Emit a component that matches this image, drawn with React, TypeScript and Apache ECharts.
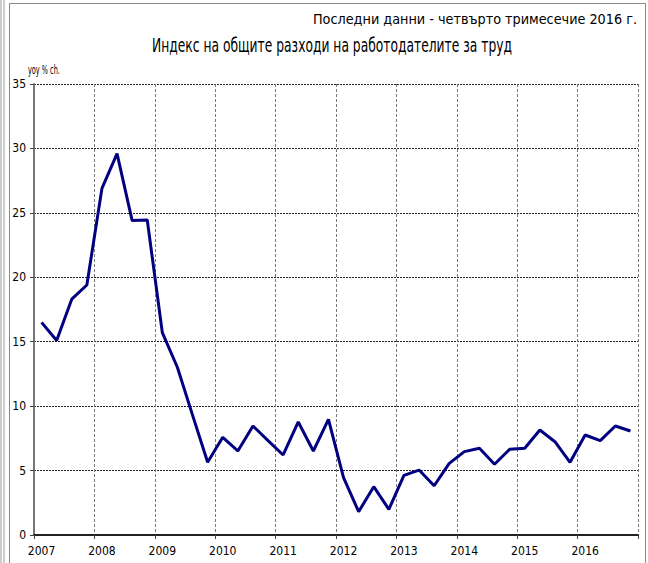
import React, { useEffect, useRef } from "react";
import * as echarts from "echarts";

const years = ["2007", "2008", "2009", "2010", "2011", "2012", "2013", "2014", "2015", "2016"];
const quarters = ["Q1", "Q2", "Q3", "Q4"];
const categories: string[] = years.flatMap((y) => quarters.map((q) => `${y} ${q}`));
const values = [
  16.5, 15.1, 18.3, 19.4,
  26.9, 29.6, 24.4, 24.45,
  15.7, 13.0, 9.3, 5.65,
  7.58, 6.52, 8.46, 7.32,
  6.21, 8.77, 6.52, 8.98,
  4.45, 1.81, 3.75, 1.99,
  4.63, 5.04, 3.82, 5.56,
  6.47, 6.73, 5.49, 6.65,
  6.73, 8.15, 7.24, 5.64,
  7.76, 7.32, 8.46, 8.07,
];
const title = "Индекс на общите разходи на работодателите за труд";
const subtitle = "Последни данни - четвърто тримесечие 2016 г.";
const unitLabel = "yoy % ch.";

const FONT = "DejaVu Sans Condensed, DejaVu Sans, sans-serif";

export default function App() {
  const ref = useRef<HTMLDivElement>(null);
  useEffect(() => {
    if (!ref.current) return;
    const chart = echarts.init(ref.current, undefined, { renderer: "svg" });
    chart.setOption({
      animation: false,
      backgroundColor: "#ffffff",
      textStyle: { fontFamily: FONT },
      grid: { left: 34, right: 10, top: 84, bottom: 28, containLabel: false },
      graphic: [
        { type: "line", shape: { x1: 1, y1: 0, x2: 1, y2: 563 }, style: { stroke: "#999", lineWidth: 1 } },
        { type: "line", shape: { x1: 4, y1: 0, x2: 4, y2: 563 }, style: { stroke: "#999", lineWidth: 1 } },
        { type: "polyline", shape: { points: [[9.5, 563], [9.5, 3.5], [645.5, 3.5], [645.5, 563]] }, style: { stroke: "#888", fill: "none", lineWidth: 1 } },
        {
          type: "text", x: 637, y: 19, scaleX: 1.02,
          style: { text: subtitle, fontSize: 14, fontFamily: FONT, fill: "#000", align: "right", verticalAlign: "middle" },
        },
        {
          type: "text", x: 332, y: 46, scaleX: 0.72,
          style: { text: title, fontSize: 19, fontFamily: FONT, fill: "#000", align: "center", verticalAlign: "middle" },
        },
        {
          type: "text", x: 28, y: 69, scaleX: 0.56,
          style: { text: unitLabel, fontSize: 13, fontFamily: FONT, fill: "#000", align: "left", verticalAlign: "middle" },
        },
      ],
      xAxis: {
        type: "category",
        data: categories,
        boundaryGap: true,
        axisLine: { show: true, lineStyle: { color: "#222", width: 2 } },
        axisTick: { show: true, interval: 3, length: 4, lineStyle: { color: "#444" } },
        axisLabel: {
          interval: 3,
          formatter: (v: string) => v.split(" ")[0],
          color: "#000",
          fontSize: 12,
          fontFamily: FONT,
          margin: 10,
        },
        splitLine: { show: true, interval: 3, lineStyle: { color: "#777", type: [3, 2], width: 1 } },
      },
      yAxis: {
        type: "value",
        min: 0,
        max: 35,
        interval: 5,
        axisLine: { show: true, lineStyle: { color: "#777", width: 2 } },
        axisTick: { show: true, length: 4, lineStyle: { color: "#444" } },
        axisLabel: { color: "#000", fontSize: 12, fontFamily: FONT, margin: 8 },
        splitLine: { show: true, lineStyle: { color: "#222", type: [2, 1], width: 1 } },
      },
      series: [
        {
          type: "line",
          data: values,
          symbol: "none",
          lineStyle: { color: "#000080", width: 3 },
          itemStyle: { color: "#000080" },
        },
      ],
    });
    return () => chart.dispose();
  }, []);
  return <div ref={ref} style={{ position: "fixed", left: 0, top: 0, width: 648, height: 563 }} />;
}
